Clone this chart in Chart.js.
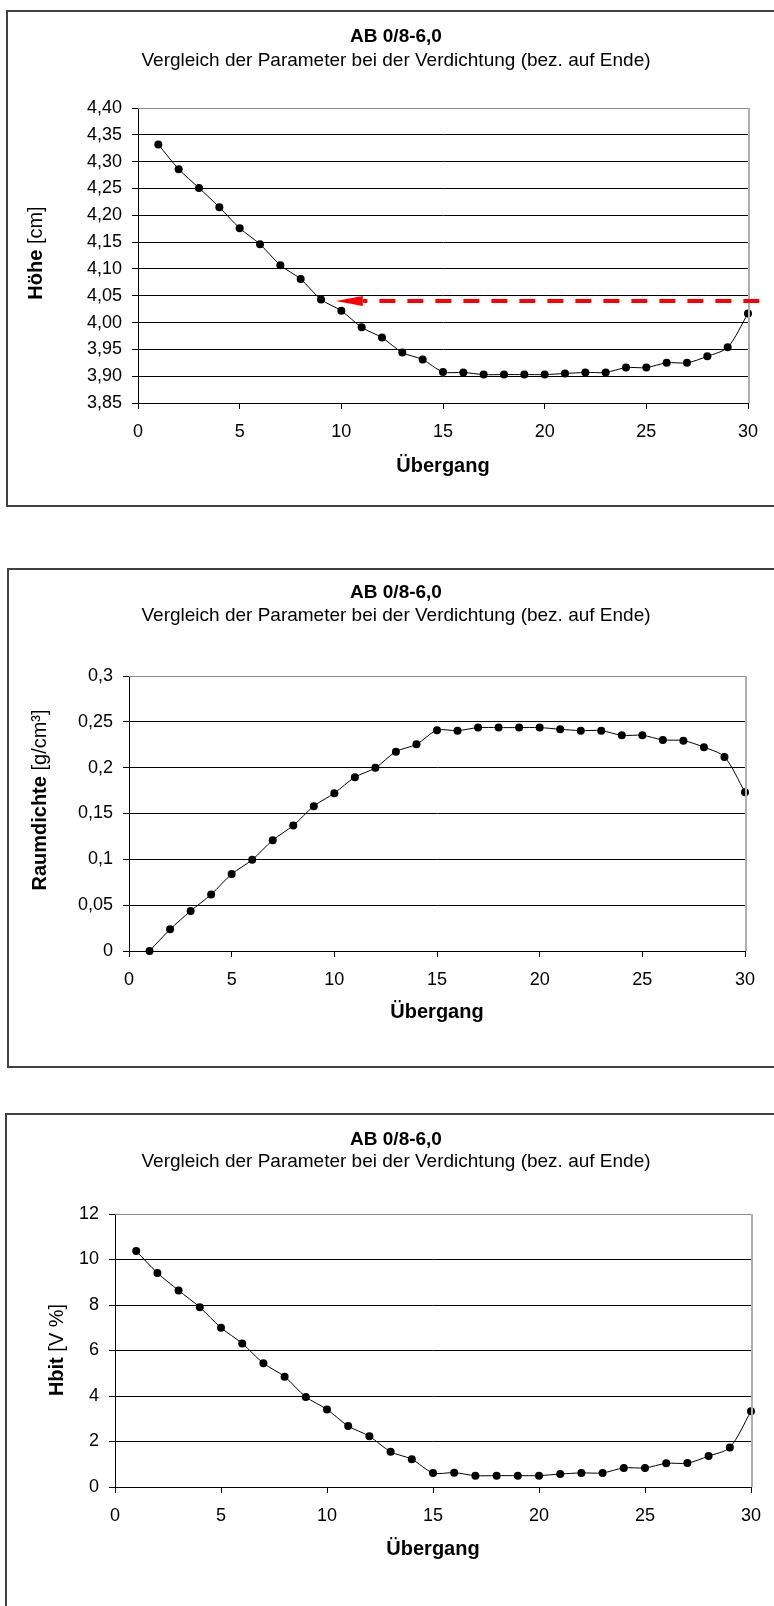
<!DOCTYPE html>
<html>
<head>
<meta charset="utf-8">
<script src="https://cdn.jsdelivr.net/npm/chart.js@4.4.1/dist/chart.umd.min.js"></script>
<style>
  html, body { margin: 0; padding: 0; background: #fff; }
  body { width: 774px; height: 1606px; position: relative; overflow: hidden; }
  .frame { position: absolute; border: 2px solid #404040; box-sizing: border-box; }
  canvas { position: absolute; left: 0; }
</style>
</head>
<body>
<div class="frame" style="left:6px;top:10px;width:800px;height:497px"></div>
<div class="frame" style="left:7px;top:568px;width:800px;height:500px"></div>
<div class="frame" style="left:5px;top:1113px;width:800px;height:540px"></div>
<canvas id="c1" width="774" height="530" style="top:0px;width:774px;height:530px"></canvas>
<canvas id="c2" width="774" height="555" style="top:530px;width:774px;height:555px"></canvas>
<canvas id="c3" width="774" height="521" style="top:1085px;width:774px;height:521px"></canvas>
<script>
// Passes (Übergang) 1..30
const uebergang = [1, 2, 3, 4, 5, 6, 7, 8, 9, 10, 11, 12, 13, 14, 15, 16, 17, 18, 19, 20,
                   21, 22, 23, 24, 25, 26, 27, 28, 29, 30];

// Specimen height [cm]
const hoehe = [4.332, 4.286, 4.251, 4.215, 4.176, 4.146, 4.107, 4.081, 4.043, 4.022,
               3.991, 3.972, 3.944, 3.931, 3.908, 3.907, 3.903, 3.903, 3.903, 3.903,
               3.905, 3.907, 3.907, 3.916, 3.916, 3.925, 3.925, 3.937, 3.954, 4.017];

// Bulk density change [g/cm³]
const raumdichte = [0.000, 0.0236, 0.0436, 0.0617, 0.0839, 0.0995, 0.1209, 0.1369, 0.158, 0.1722,
                    0.1896, 0.1998, 0.2175, 0.2255, 0.2408, 0.2404, 0.2437, 0.2437, 0.2437, 0.2437,
                    0.2419, 0.2404, 0.2404, 0.2353, 0.2353, 0.2303, 0.2295, 0.2223, 0.2117, 0.1732];

// Void content Hbit [V %]
const hbit = [10.37, 9.41, 8.64, 7.90, 7.00, 6.31, 5.44, 4.85, 3.96, 3.41,
              2.68, 2.23, 1.55, 1.22, 0.62, 0.63, 0.50, 0.50, 0.50, 0.50,
              0.57, 0.62, 0.62, 0.84, 0.84, 1.04, 1.05, 1.36, 1.74, 3.33];

// Tick labels
const xTickLabels = ['0', '5', '10', '15', '20', '25', '30'];
const hoeheTickLabels = ['3,85', '3,90', '3,95', '4,00', '4,05', '4,10', '4,15', '4,20', '4,25', '4,30', '4,35', '4,40'];
const raumTickLabels = ['0', '0,05', '0,1', '0,15', '0,2', '0,25', '0,3'];
const hbitTickLabels = ['0', '2', '4', '6', '8', '10', '12'];

// Texts
const titel = 'AB 0/8-6,0';
const untertitel = 'Vergleich der Parameter bei der Verdichtung (bez. auf Ende)';
const xTitel = 'Übergang';

// Reference height marker (dashed arrow in the height chart)
const referenzHoehe = 4.04;
const pfeilSpitze = 9.73;
const pfeilEnde = 30.56;

const FONT = '"Liberation Sans", Arial, sans-serif';

function tickValues(labels) {
  return labels.map(s => parseFloat(s.replace(',', '.')));
}

function buildChart(canvasId, spec) {
  const canvas = document.getElementById(canvasId);
  const W = canvas.width, H = canvas.height;
  const xVals = tickValues(xTickLabels);
  const yVals = tickValues(spec.yLabels);

  const deco = {
    id: 'deco',
    afterDraw(chart) {
      const c = chart.ctx, a = chart.chartArea;
      c.save();
      // plot area border (top and right)
      c.strokeStyle = '#8c8c8c';
      c.lineWidth = 1;
      c.beginPath();
      c.moveTo(a.left, Math.round(a.top) + 0.5);
      c.lineTo(a.right, Math.round(a.top) + 0.5);
      c.stroke();
      c.strokeStyle = '#b0b0b0';
      c.lineWidth = 2;
      c.beginPath();
      c.moveTo(Math.round(a.right) + 1, a.top);
      c.lineTo(Math.round(a.right) + 1, a.bottom);
      c.stroke();

      // titles
      c.fillStyle = '#000';
      c.textAlign = 'center';
      c.textBaseline = 'middle';
      c.font = 'bold 19px ' + FONT;
      c.fillText(titel, spec.titleX, spec.titleY);
      c.font = '19px ' + FONT;
      c.fillText(untertitel, spec.titleX, spec.subY);
      c.font = 'bold 20px ' + FONT;
      c.fillText(xTitel, (a.left + a.right) / 2, spec.xTitleY);

      // y axis title: bold quantity + regular unit
      c.save();
      c.translate(spec.yTitleX, spec.yTitleY);
      c.rotate(-Math.PI / 2);
      c.font = 'bold 20px ' + FONT;
      const w1 = c.measureText(spec.yTitle[0]).width;
      c.font = '20px ' + FONT;
      const w2 = c.measureText(spec.yTitle[1]).width;
      c.textAlign = 'left';
      const x0 = -(w1 + w2) / 2;
      c.font = 'bold 20px ' + FONT;
      c.fillText(spec.yTitle[0], x0, 0);
      c.font = '20px ' + FONT;
      c.fillText(spec.yTitle[1], x0 + w1, 0);
      c.restore();

      // dashed red arrow at the reference height
      if (spec.arrow) {
        const xs = chart.scales.x, ys = chart.scales.y;
        const yPx = Math.round(ys.getPixelForValue(referenzHoehe));
        const tip = xs.getPixelForValue(pfeilSpitze);
        const end = xs.getPixelForValue(pfeilEnde);
        const headLen = 27, headHalf = 5;
        c.strokeStyle = '#ff0000';
        c.fillStyle = '#ff0000';
        c.lineWidth = 4;
        c.setLineDash([16, 12]);
        c.beginPath();
        c.moveTo(end, yPx);
        c.lineTo(tip + headLen, yPx);
        c.stroke();
        c.setLineDash([]);
        c.beginPath();
        c.moveTo(tip, yPx);
        c.lineTo(tip + headLen, yPx - headHalf);
        c.lineTo(tip + headLen, yPx + headHalf);
        c.closePath();
        c.fill();
      }
      c.restore();
    }
  };

  return new Chart(canvas, {
    type: 'line',
    data: {
      datasets: [{
        data: uebergang.map((x, i) => ({ x: x, y: spec.values[i] })),
        borderColor: '#000',
        borderWidth: 1,
        pointRadius: 4,
        pointBackgroundColor: '#000',
        pointBorderColor: '#000',
        pointBorderWidth: 0,
        tension: 0.3,
        fill: false,
        clip: false
      }]
    },
    options: {
      responsive: false,
      animation: false,
      devicePixelRatio: 1,
      layout: { padding: { top: spec.area.top, right: W - spec.area.right, left: 0, bottom: 0 } },
      plugins: { legend: { display: false }, tooltip: { enabled: false } },
      scales: {
        x: {
          type: 'linear',
          min: 0, max: 30,
          afterFit(s) { s.height = H - spec.area.bottom; },
          afterBuildTicks(s) { s.ticks = xVals.map(v => ({ value: v })); },
          ticks: {
            callback: (v, i) => xTickLabels[i],
            font: { family: FONT, size: 18 },
            color: '#000',
            padding: 12,
            maxRotation: 0,
            autoSkip: false
          },
          grid: { drawOnChartArea: false, drawTicks: true, tickLength: 6, color: '#000' },
          border: { color: '#000', width: 1 }
        },
        y: {
          type: 'linear',
          min: yVals[0], max: yVals[yVals.length - 1],
          afterFit(s) { s.width = spec.area.left; },
          afterBuildTicks(s) { s.ticks = yVals.map(v => ({ value: v })); },
          ticks: {
            callback: (v, i) => spec.yLabels[i],
            font: { family: FONT, size: 18 },
            color: '#000',
            padding: 10,
            autoSkip: false
          },
          grid: { color: '#000', lineWidth: 1, drawTicks: true, tickLength: 6 },
          border: { color: '#000', width: 1 }
        }
      }
    },
    plugins: [deco]
  });
}

buildChart('c1', {
  values: hoehe, yLabels: hoeheTickLabels,
  area: { left: 138, top: 108, right: 748, bottom: 403 },
  titleX: 396, titleY: 37, subY: 61, xTitleY: 466,
  yTitle: ['Höhe', ' [cm]'], yTitleX: 36, yTitleY: 253,
  arrow: true
});

buildChart('c2', {
  values: raumdichte, yLabels: raumTickLabels,
  area: { left: 129, top: 146, right: 745, bottom: 421 },
  titleX: 396, titleY: 63, subY: 86, xTitleY: 482,
  yTitle: ['Raumdichte', ' [g/cm³]'], yTitleX: 40, yTitleY: 270,
  arrow: false
});

buildChart('c3', {
  values: hbit, yLabels: hbitTickLabels,
  area: { left: 115, top: 129, right: 751, bottom: 402 },
  titleX: 396, titleY: 55, subY: 77, xTitleY: 464,
  yTitle: ['Hbit', ' [V %]'], yTitleX: 57, yTitleY: 265,
  arrow: false
});
</script>
</body>
</html>
